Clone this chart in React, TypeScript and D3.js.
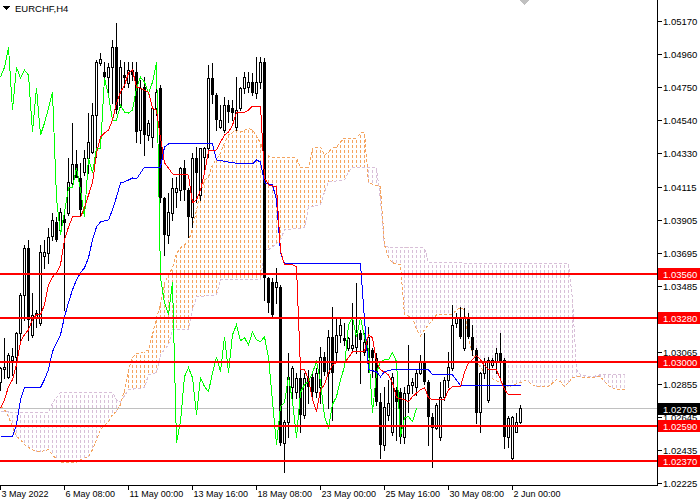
import * as d3 from "d3";

type Pt = [number, number];

// EURCHF H4, one row per bar: open, high, low, close
const candles: [number, number, number, number][] = [
  [1.02873, 1.02968, 1.02822, 1.02962], [1.02956, 1.03153, 1.02898, 1.02968], [1.02904, 1.03058, 1.02898, 1.03045],
  [1.03013, 1.03089, 1.02917, 1.03039], [1.03032, 1.03191, 1.02867, 1.03185], [1.03185, 1.0344, 1.0314, 1.03427],
  [1.03427, 1.03745, 1.03268, 1.03726], [1.03726, 1.03777, 1.0314, 1.03268], [1.03172, 1.0344, 1.03159, 1.03299],
  [1.03286, 1.03331, 1.03223, 1.03312], [1.03249, 1.03745, 1.03236, 1.037], [1.03675, 1.03777, 1.03599, 1.037],
  [1.03694, 1.03853, 1.03631, 1.03796], [1.03803, 1.03949, 1.03777, 1.03904], [1.03891, 1.03923, 1.03771, 1.03777],
  [1.03841, 1.03981, 1.03828, 1.03955], [1.03911, 1.03955, 1.03331, 1.03885], [1.03949, 1.04299, 1.03936, 1.04146],
  [1.0414, 1.04521, 1.04127, 1.04261], [1.04261, 1.0435, 1.04177, 1.04171], [1.04171, 1.04267, 1.03936, 1.03968],
  [1.04209, 1.0435, 1.0419, 1.04299], [1.04299, 1.04585, 1.04203, 1.044], [1.04337, 1.04649, 1.04331, 1.04572],
  [1.04572, 1.04922, 1.04305, 1.04909], [1.04903, 1.04967, 1.0489, 1.04928], [1.04846, 1.04909, 1.04795, 1.04814],
  [1.04814, 1.04903, 1.04686, 1.04877], [1.04877, 1.05049, 1.04649, 1.05004], [1.05004, 1.05158, 1.04585, 1.04604],
  [1.04636, 1.04922, 1.04623, 1.04877], [1.04827, 1.04909, 1.0475, 1.04808], [1.04776, 1.04909, 1.0475, 1.04859],
  [1.04859, 1.04909, 1.04795, 1.04827], [1.04846, 1.04909, 1.044, 1.04464], [1.04477, 1.04795, 1.04394, 1.04744],
  [1.0475, 1.04814, 1.04318, 1.04445], [1.04445, 1.0454, 1.04413, 1.04521], [1.04432, 1.04623, 1.04368, 1.04617],
  [1.04617, 1.04744, 1.04572, 1.04718], [1.04744, 1.04763, 1.04019, 1.04044], [1.04044, 1.0405, 1.03681, 1.03809],
  [1.03809, 1.04076, 1.03758, 1.03955], [1.03949, 1.04171, 1.03904, 1.04108], [1.04082, 1.04177, 1.03987, 1.04108],
  [1.04095, 1.04241, 1.04032, 1.04235], [1.04235, 1.04286, 1.04032, 1.04095], [1.04095, 1.04108, 1.03796, 1.03923],
  [1.03923, 1.04331, 1.03859, 1.04299], [1.04299, 1.04368, 1.04019, 1.04203], [1.04063, 1.04362, 1.04032, 1.04362],
  [1.04305, 1.04368, 1.04222, 1.04362], [1.04362, 1.0489, 1.04305, 1.04808], [1.04808, 1.04903, 1.04649, 1.04699],
  [1.04699, 1.04712, 1.04477, 1.0454], [1.04495, 1.04636, 1.04489, 1.0454], [1.04477, 1.04686, 1.04464, 1.04636],
  [1.04636, 1.04668, 1.04527, 1.04591], [1.04617, 1.04668, 1.0454, 1.04585], [1.04495, 1.04814, 1.04477, 1.04604],
  [1.04617, 1.0475, 1.04604, 1.04744], [1.04744, 1.04846, 1.04712, 1.04814], [1.0475, 1.04846, 1.04718, 1.04782],
  [1.04782, 1.0484, 1.04699, 1.04712], [1.04712, 1.04941, 1.0468, 1.04782], [1.04782, 1.04941, 1.04744, 1.04909],
  [1.04909, 1.04935, 1.03395, 1.03535], [1.03535, 1.03541, 1.03318, 1.03376], [1.03509, 1.03535, 1.03286, 1.03299],
  [1.03477, 1.03599, 1.03376, 1.03509], [1.03477, 1.0349, 1.02472, 1.02485], [1.02485, 1.02631, 1.02294, 1.02618],
  [1.02618, 1.03058, 1.02517, 1.02904], [1.02841, 1.02975, 1.02758, 1.02962], [1.02809, 1.0293, 1.02771, 1.02898],
  [1.02898, 1.02949, 1.02549, 1.02663], [1.02663, 1.0293, 1.02644, 1.02898], [1.02898, 1.02949, 1.02739, 1.02841],
  [1.02904, 1.0293, 1.02758, 1.02809], [1.02809, 1.02962, 1.02777, 1.0293], [1.02841, 1.03095, 1.02739, 1.03032],
  [1.03032, 1.03064, 1.02917, 1.02936], [1.0293, 1.03204, 1.02707, 1.03159], [1.03159, 1.0335, 1.02631, 1.0293],
  [1.03064, 1.03286, 1.03013, 1.03172], [1.03172, 1.03286, 1.03127, 1.03236], [1.03153, 1.03249, 1.03108, 1.03134],
  [1.03089, 1.03159, 1.03077, 1.03153], [1.03089, 1.03376, 1.03077, 1.03108], [1.03095, 1.03503, 1.03058, 1.03191],
  [1.03185, 1.03204, 1.02867, 1.0314], [1.03064, 1.03185, 1.03045, 1.03127], [1.03013, 1.03223, 1.02936, 1.03159],
  [1.03077, 1.03089, 1.02904, 1.03026], [1.03026, 1.03058, 1.02727, 1.02745], [1.02745, 1.02803, 1.02389, 1.02472],
  [1.02472, 1.02841, 1.0244, 1.02714], [1.02663, 1.02886, 1.02631, 1.02739], [1.02549, 1.0293, 1.02536, 1.02904],
  [1.02822, 1.02841, 1.02504, 1.02745], [1.02809, 1.02835, 1.02485, 1.02517], [1.02517, 1.02841, 1.02485, 1.02803],
  [1.02803, 1.03108, 1.02682, 1.02854], [1.02854, 1.02898, 1.02803, 1.02873], [1.02841, 1.02949, 1.0279, 1.0293],
  [1.0293, 1.03045, 1.02924, 1.03], [1.02994, 1.03185, 1.0286, 1.02873], [1.02873, 1.02886, 1.02472, 1.0265],
  [1.0265, 1.02676, 1.02332, 1.0258], [1.0258, 1.02739, 1.02568, 1.02727], [1.02517, 1.02873, 1.02504, 1.02777],
  [1.02777, 1.02904, 1.02758, 1.02886], [1.02886, 1.03064, 1.02841, 1.02968], [1.02962, 1.03363, 1.02949, 1.03236],
  [1.03249, 1.03312, 1.03223, 1.0328], [1.0328, 1.0335, 1.03153, 1.03159], [1.03089, 1.03344, 1.03077, 1.0328],
  [1.0328, 1.03312, 1.03153, 1.03159], [1.03159, 1.03236, 1.03045, 1.03077], [1.03077, 1.03089, 1.02612, 1.02676],
  [1.02682, 1.02936, 1.02549, 1.0293], [1.0293, 1.03026, 1.02898, 1.03], [1.02758, 1.03032, 1.02745, 1.03013],
  [1.02981, 1.03026, 1.02968, 1.03013], [1.03, 1.03089, 1.0293, 1.03058], [1.03058, 1.03185, 1.02904, 1.03],
  [1.03013, 1.03026, 1.02453, 1.02523], [1.02523, 1.02656, 1.02459, 1.02644], [1.02389, 1.02656, 1.02377, 1.0265],
  [1.02555, 1.02676, 1.02549, 1.02618], [1.02618, 1.02727, 1.02612, 1.02703],
];

// Ichimoku lines, [bar, price]
const tenkan: Pt[] = [
  [0, 1.02707], [1, 1.02758], [2, 1.02841], [3, 1.02886], [4, 1.02981], [5, 1.03127], [6, 1.03172], [7, 1.03204],
  [8, 1.03268], [9, 1.03299], [10, 1.03299], [11, 1.03363], [12, 1.0349], [13, 1.03541], [14, 1.03567], [15, 1.03618],
  [16, 1.03777], [17, 1.03859], [18, 1.03923], [20, 1.03923], [21, 1.03981], [22, 1.04063], [23, 1.0414], [24, 1.04331],
  [25, 1.04432], [26, 1.04458], [27, 1.04477], [28, 1.0454], [29, 1.04649], [30, 1.04718], [31, 1.04763], [32, 1.0484],
  [33, 1.04859], [34, 1.0475], [35, 1.04744], [36, 1.04731], [37, 1.04718], [38, 1.04617], [39, 1.04604], [40, 1.04426],
  [41, 1.04267], [42, 1.04235], [43, 1.04197], [47, 1.0419], [48, 1.04013], [49, 1.04032], [50, 1.04095], [51, 1.04203],
  [52, 1.04344], [54, 1.0435], [55, 1.044], [56, 1.04445], [57, 1.04464], [58, 1.04508], [59, 1.04591], [61, 1.04591],
  [62, 1.04604], [63, 1.0463], [65, 1.0463], [66, 1.04171], [67, 1.04127], [69, 1.04114], [70, 1.03707], [71, 1.03618],
  [73, 1.03618], [74, 1.03605], [75, 1.02949], [76, 1.02949], [77, 1.02886], [78, 1.02758], [79, 1.02682], [80, 1.02822],
  [81, 1.02854], [82, 1.0293], [83, 1.02981], [84, 1.02994], [86, 1.02994], [87, 1.03026], [88, 1.03064], [91, 1.03064],
  [92, 1.03172], [93, 1.03153], [94, 1.03], [95, 1.02949], [97, 1.02917], [98, 1.02867], [99, 1.02771], [101, 1.02758],
  [102, 1.02745], [103, 1.02777], [105, 1.02822], [106, 1.02835], [107, 1.02771], [108, 1.02758], [111, 1.02758],
  [112, 1.02822], [113, 1.02841], [115, 1.02841], [116, 1.0293], [117, 1.02994], [118, 1.03013], [119, 1.03039],
  [120, 1.03013], [121, 1.02975], [122, 1.02949], [124, 1.02949], [125, 1.02886], [126, 1.02822], [127, 1.0279], [130, 1.0279],
];

const kijun: Pt[] = [
  [0, 1.02523], [3, 1.02523], [4, 1.02599], [5, 1.02758], [6, 1.02835], [10, 1.02835], [11, 1.02886], [12, 1.02949],
  [13, 1.03064], [14, 1.03121], [15, 1.03172], [16, 1.03286], [17, 1.03376], [18, 1.03459], [19, 1.03522], [20, 1.03567],
  [21, 1.03599], [22, 1.03662], [23, 1.03777], [24, 1.03859], [25, 1.03891], [27, 1.03904], [28, 1.03968], [29, 1.0405],
  [30, 1.0414], [31, 1.04146], [33, 1.04171], [34, 1.04165], [35, 1.04203], [36, 1.04241], [40, 1.04241], [41, 1.04368],
  [42, 1.04388], [53, 1.04388], [54, 1.04286], [57, 1.04273], [60, 1.04261], [63, 1.04261], [64, 1.04286], [65, 1.04273],
  [66, 1.0414], [68, 1.04127], [69, 1.04032], [70, 1.03694], [71, 1.03624], [90, 1.03624], [91, 1.03268], [92, 1.02949],
  [94, 1.02936], [95, 1.02904], [96, 1.02936], [98, 1.02949], [107, 1.02949], [108, 1.02917], [113, 1.02917],
  [115, 1.02848], [130, 1.02848],
];

const spanA: Pt[] = [
  [0, 1.02714], [1, 1.02695], [2, 1.0265], [3, 1.02586], [4, 1.02523], [5, 1.02504], [6, 1.02472], [7, 1.02453],
  [9, 1.02427], [10, 1.02427], [12, 1.0244], [13, 1.02408], [14, 1.02377], [15, 1.02358], [19, 1.02358], [20, 1.02377],
  [22, 1.02395], [23, 1.0244], [24, 1.02504], [25, 1.02568], [27, 1.02618], [28, 1.02663], [29, 1.02682], [30, 1.02727],
  [31, 1.02822], [32, 1.02949], [33, 1.03026], [34, 1.03052], [36, 1.03064], [37, 1.03077], [38, 1.03172], [39, 1.0328],
  [40, 1.03363], [41, 1.03503], [43, 1.03599], [44, 1.03688], [45, 1.03726], [47, 1.03764], [48, 1.03853], [49, 1.03968],
  [50, 1.04076], [51, 1.04159], [52, 1.04177], [53, 1.04254], [55, 1.04331], [56, 1.04394], [57, 1.04445], [59, 1.04477],
  [60, 1.04464], [62, 1.04489], [63, 1.04477], [64, 1.04439], [65, 1.04394], [66, 1.04318], [69, 1.04299], [74, 1.04299],
  [75, 1.04235], [77, 1.04241], [78, 1.04362], [80, 1.04368], [81, 1.04318], [82, 1.04337], [83, 1.04362], [84, 1.04368],
  [85, 1.044], [86, 1.04426], [89, 1.04426], [90, 1.04458], [91, 1.04458], [92, 1.0414], [95, 1.04114], [96, 1.03745],
  [97, 1.03662], [98, 1.03631], [100, 1.03618], [101, 1.03299], [103, 1.0328], [104, 1.03204], [105, 1.03166],
  [106, 1.03204], [107, 1.03236], [109, 1.03299], [113, 1.03299], [114, 1.03331], [115, 1.03344], [116, 1.03331],
  [117, 1.0314], [118, 1.03058], [119, 1.03], [121, 1.0293], [123, 1.02892], [125, 1.02867], [127, 1.02841],
  [130, 1.02867], [131, 1.02879], [132, 1.02873], [133, 1.02854], [134, 1.02841], [137, 1.02841], [139, 1.02886],
  [140, 1.02873], [141, 1.02841], [142, 1.02867], [143, 1.02898], [144, 1.02904], [148, 1.02898], [149, 1.02904],
  [150, 1.02904], [151, 1.02873], [152, 1.02848], [153, 1.02835], [154, 1.02822], [156, 1.02822],
];

const spanB: Pt[] = [
  [0, 1.02682], [1, 1.02682], [4, 1.02676], [12, 1.02676], [13, 1.02739], [14, 1.02771], [15, 1.02803], [28, 1.02803],
  [29, 1.02758], [30, 1.02745], [32, 1.02822], [36, 1.02835], [37, 1.02917], [39, 1.0293], [40, 1.03045], [42, 1.03108],
  [43, 1.03204], [47, 1.03204], [48, 1.03331], [49, 1.03414], [54, 1.03427], [55, 1.03522], [65, 1.03522], [66, 1.03713],
  [67, 1.03713], [68, 1.03732], [70, 1.03777], [71, 1.03841], [76, 1.03853], [77, 1.03987], [80, 1.04], [81, 1.04082],
  [82, 1.04146], [86, 1.04159], [87, 1.04209], [88, 1.04241], [94, 1.04235], [95, 1.04032], [96, 1.03732], [106, 1.03726],
  [107, 1.03631], [142, 1.03624], [143, 1.03395], [144, 1.02949], [145, 1.02917], [148, 1.02904], [150, 1.02917],
  [156, 1.02917],
];

const CHIKOU_SHIFT = 26;
const levels = [1.0356, 1.0328, 1.03, 1.0259, 1.0237];
const bidPrice = 1.02703;
const priceTicks = [1.0517, 1.0496, 1.0475, 1.0454, 1.0433, 1.04115, 1.03905, 1.03695, 1.03485, 1.03275, 1.03065, 1.02855, 1.02645, 1.02435, 1.02225];
const dateBars = [0, 16, 32, 48, 64, 80, 96, 112, 128];
const dateLabels = ["3 May 2022", "6 May 08:00", "11 May 00:00", "13 May 16:00", "18 May 08:00", "23 May 00:00", "25 May 16:00", "30 May 08:00", "2 Jun 00:00"];
const shiftBar = 131;

const W = 700;
const H = 500;
const RIGHT = 657;
const BOTTOM = 486;
const FONT = "'Liberation Sans', Arial, sans-serif";
const SANDY = "#F4A460";
const THISTLE = "#D8BFD8";

export default function App() {
  const x = d3.scaleLinear().domain([0, 164]).range([0, 656]);
  const y = d3.scaleLinear().domain([1.02225, 1.0517]).range([483.3, 21.3]);
  const px = (i: number) => Math.round(x(i)) + 0.5;
  const py = (p: number) => Math.round(y(p));

  const line = d3.line<Pt>().x((d) => px(d[0])).y((d) => y(d[1]));
  const chikou: Pt[] = candles.slice(CHIKOU_SHIFT).map((c, i) => [i, c[3]]);

  const bFirst = px(spanB[0][0]);
  const bLast = px(spanB[spanB.length - 1][0]);
  const cloud = line([...spanA, ...[...spanB].reverse()]) + "Z";
  const aboveB = line(spanB) + `L${bLast + 2},-10L${bFirst - 2},-10Z`;
  const belowB = line(spanB) + `L${bLast + 2},${H}L${bFirst - 2},${H}Z`;

  return (
    <div style={{ position: "fixed", left: 0, top: 0, width: W, height: H, background: "#fff" }}>
      <svg width={W} height={H} shapeRendering="crispEdges" style={{ display: "block" }}>
        <defs>
          <pattern id="hatchA" width={4} height={5} patternUnits="userSpaceOnUse">
            <rect x={0} y={0} width={1} height={3} fill={SANDY} />
          </pattern>
          <pattern id="hatchB" width={4} height={5} patternUnits="userSpaceOnUse">
            <rect x={0} y={0} width={1} height={3} fill={THISTLE} />
          </pattern>
          <clipPath id="clipAbove">
            <path d={aboveB} />
          </clipPath>
          <clipPath id="clipBelow">
            <path d={belowB} />
          </clipPath>
          <clipPath id="plot">
            <rect x={0} y={0} width={RIGHT} height={BOTTOM} />
          </clipPath>
        </defs>

        <g clipPath="url(#plot)">
          {/* kumo */}
          <path d={cloud} fill="url(#hatchA)" clipPath="url(#clipAbove)" />
          <path d={cloud} fill="url(#hatchB)" clipPath="url(#clipBelow)" />
          <path d={line(spanB) ?? ""} fill="none" stroke={THISTLE} strokeDasharray="3,2" />
          <path d={line(spanA) ?? ""} fill="none" stroke={SANDY} strokeDasharray="3,2" />

          <line x1={0} x2={RIGHT} y1={py(bidPrice) + 0.5} y2={py(bidPrice) + 0.5} stroke="#C0C0C0" />

          {candles.map(([o, h, l, c], i) => {
            const cx = px(i);
            const top = Math.round(Math.min(y(o), y(c)));
            const bot = Math.round(Math.max(y(o), y(c)));
            const bull = c >= o;
            return (
              <g key={i}>
                <line x1={cx} x2={cx} y1={Math.round(y(h))} y2={Math.round(y(l)) + 1} stroke="#000" />
                {bull ? (
                  <rect x={cx - 1} y={top + 0.5} width={2} height={Math.max(bot - top, 0)} fill="#fff" stroke="#000" />
                ) : (
                  <rect x={cx - 1.5} y={top} width={3} height={Math.max(bot - top, 1)} fill="#000" />
                )}
              </g>
            );
          })}

          <path d={line(chikou) ?? ""} fill="none" stroke="#00FF00" />
          <path d={line(kijun) ?? ""} fill="none" stroke="#0000FF" />
          <path d={line(tenkan) ?? ""} fill="none" stroke="#FF0000" />

          {levels.map((p) => (
            <line key={p} x1={0} x2={RIGHT} y1={py(p)} y2={py(p)} stroke="#FF0000" strokeWidth={2} />
          ))}

          <path
            d={`M${px(shiftBar) - 5},0L${px(shiftBar) + 5},0L${px(shiftBar)},5Z`}
            fill="#C0C0C0"
          />
        </g>

        {/* axes */}
        <line x1={RIGHT + 0.5} x2={RIGHT + 0.5} y1={0} y2={BOTTOM} stroke="#000" />
        <line x1={0} x2={RIGHT + 1} y1={BOTTOM - 0.5} y2={BOTTOM - 0.5} stroke="#000" />

        {priceTicks.map((p) => (
          <g key={p}>
            <line x1={RIGHT + 1} x2={RIGHT + 5} y1={py(p) + 0.5} y2={py(p) + 0.5} stroke="#000" />
            <text x={RIGHT + 6} y={py(p) + 4} fontFamily={FONT} fontSize={9.5} fill="#000">
              {p.toFixed(5)}
            </text>
          </g>
        ))}

        {dateBars.map((b, k) => (
          <g key={b}>
            <line x1={px(b)} x2={px(b)} y1={BOTTOM} y2={BOTTOM + 4} stroke="#000" />
            <text x={px(b) + 1} y={BOTTOM + 11} fontFamily={FONT} fontSize={9} fill="#000">
              {dateLabels[k]}
            </text>
          </g>
        ))}

        {levels.map((p) => (
          <g key={p}>
            <rect x={RIGHT + 1} y={py(p) - 6} width={W - RIGHT - 1} height={12} fill="#FF0000" />
            <text x={RIGHT + 6} y={py(p) + 3.5} fontFamily={FONT} fontSize={9.5} fill="#fff">
              {p.toFixed(5)}
            </text>
          </g>
        ))}
        <rect x={RIGHT + 1} y={py(bidPrice) - 5} width={W - RIGHT - 1} height={12} fill="#000" />
        <text x={RIGHT + 6} y={py(bidPrice) + 4.5} fontFamily={FONT} fontSize={9.5} fill="#fff">
          {bidPrice.toFixed(5)}
        </text>

        {/* title */}
        <path d="M3,6L10,6L6.5,10Z" fill="#000" />
        <text x={15} y={12} fontFamily={FONT} fontSize={9.5} fill="#000">
          EURCHF,H4
        </text>
      </svg>
    </div>
  );
}
